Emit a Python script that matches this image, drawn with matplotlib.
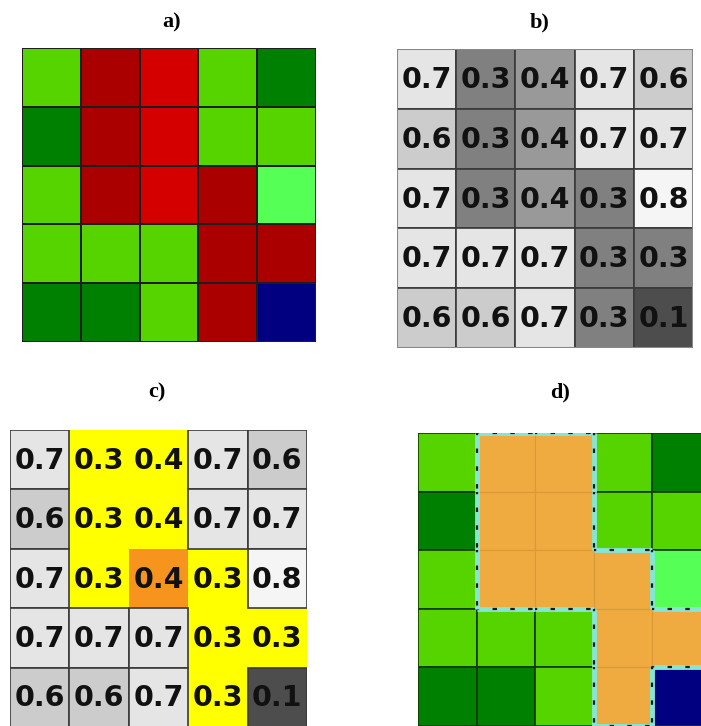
import numpy as np
import matplotlib
matplotlib.use("Agg")
import matplotlib.pyplot as plt
from matplotlib.colors import ListedColormap
from matplotlib.patches import Rectangle

# panel a / d: land cover classes per cell
class_colors = ['#55d400', '#aa0000', '#d40000', '#008000', '#55ff55', '#000080']
# 0 light green, 1 dark red, 2 red, 3 dark green, 4 bright green, 5 navy
grid_a = [[0, 1, 2, 0, 3],
          [3, 1, 2, 0, 0],
          [0, 1, 2, 1, 4],
          [0, 0, 0, 1, 1],
          [3, 3, 0, 1, 5]]

# panel b / c: values
values = [[0.7, 0.3, 0.4, 0.7, 0.6],
          [0.6, 0.3, 0.4, 0.7, 0.7],
          [0.7, 0.3, 0.4, 0.3, 0.8],
          [0.7, 0.7, 0.7, 0.3, 0.3],
          [0.6, 0.6, 0.7, 0.3, 0.1]]

# panel c: highlighted cells (y = yellow region, o = seed cell)
marks_c = [['', 'y', 'y', '', ''],
           ['', 'y', 'y', '', ''],
           ['', 'y', 'o', 'y', ''],
           ['', '', '', 'y', 'y'],
           ['', '', '', 'y', '']]

# panel d: cluster mask
cluster = [[0, 1, 1, 0, 0],
           [0, 1, 1, 0, 0],
           [0, 1, 1, 1, 0],
           [0, 0, 0, 1, 1],
           [0, 0, 0, 1, 0]]

titles = ['a)', 'b)', 'c)', 'd)']

W, H = 701, 726
fig = plt.figure(figsize=(W / 100, H / 100), dpi=100)


def px_axes(x0, y0, x1, y1):
    ax = fig.add_axes([x0 / W, 1 - y1 / H, (x1 - x0) / W, (y1 - y0) / H])
    ax.set_xlim(0, 5)
    ax.set_ylim(5, 0)
    ax.axis('off')
    return ax


def gray_of(v):
    g = np.clip(v + 0.2, 0, 0.96)
    return (g, g, g)


cmap_a = ListedColormap(class_colors)
A = np.array(grid_a)
V = np.array(values)
C = np.array(cluster)

# a)
ax = px_axes(22, 48, 316, 342)
ax.pcolormesh(np.arange(6), np.arange(6), A, cmap=cmap_a, vmin=-0.5, vmax=5.5,
              edgecolors='#1e1e1e', linewidth=1.3)

# b)
ax = px_axes(397, 49, 693, 348)
for i in range(5):
    for j in range(5):
        ax.add_patch(Rectangle((j, i), 1, 1, facecolor=gray_of(V[i, j]),
                               edgecolor='#3a3a3a', linewidth=1.2))
        ax.text(j + 0.5, i + 0.52, '%.1f' % V[i, j], ha='center', va='center',
                fontsize=20.5, fontweight='bold', color='#111111')
ax.add_patch(Rectangle((0, 0), 5, 5, fill=False, edgecolor='#888888', linewidth=1.5))

# c)
ax = px_axes(10, 430, 307, 727)
for i in range(5):
    for j in range(5):
        if marks_c[i][j] == 'y':
            ax.add_patch(Rectangle((j, i), 1, 1, facecolor='#ffff00', edgecolor='none'))
        elif marks_c[i][j] == 'o':
            ax.add_patch(Rectangle((j, i), 1, 1, facecolor='#f7941d', edgecolor='none'))
for i in range(5):
    for j in range(5):
        if marks_c[i][j] == '':
            ax.add_patch(Rectangle((j, i), 1, 1, facecolor=gray_of(V[i, j]),
                                   edgecolor='#3a3a3a', linewidth=1.2))
        ax.text(j + 0.5, i + 0.52, '%.1f' % V[i, j], ha='center', va='center',
                fontsize=20.5, fontweight='bold', color='#111111')

# d)
ax = px_axes(418, 433, 711, 726)
for i in range(5):
    for j in range(5):
        if C[i, j]:
            ax.add_patch(Rectangle((j, i), 1, 1, facecolor='#efaa40',
                                   edgecolor='#d99a3a', linewidth=0.8))
        else:
            ax.add_patch(Rectangle((j, i), 1, 1, facecolor=class_colors[A[i, j]],
                                   edgecolor='#103a00', linewidth=1.2))
# cluster outline
segs = []
for i in range(5):
    for j in range(5):
        if not C[i, j]:
            continue
        if i == 0 or not C[i - 1, j]:
            segs.append(((j, j + 1), (i, i)))
        if i == 4 or not C[i + 1, j]:
            segs.append(((j, j + 1), (i + 1, i + 1)))
        if j == 0 or not C[i, j - 1]:
            segs.append(((j, j), (i, i + 1)))
        if j == 4 or not C[i, j + 1]:
            segs.append(((j + 1, j + 1), (i, i + 1)))
for xs, ys in segs:
    ax.plot(xs, ys, color='#86e6d6', linewidth=3.5, solid_capstyle='butt')
    ax.plot(xs, ys, color='#1a1a1a', linewidth=1.6, linestyle=(1, (2, 6)))

# titles
title_pos = [(172, 22), (540, 22), (157, 392), (560, 392)]
for t, (x, y) in zip(titles, title_pos):
    fig.text(x / W, 1 - y / H, t, ha='center', va='center', fontsize=16,
             fontweight='bold', family='Liberation Serif')

fig.savefig('out.png', dpi=100)
